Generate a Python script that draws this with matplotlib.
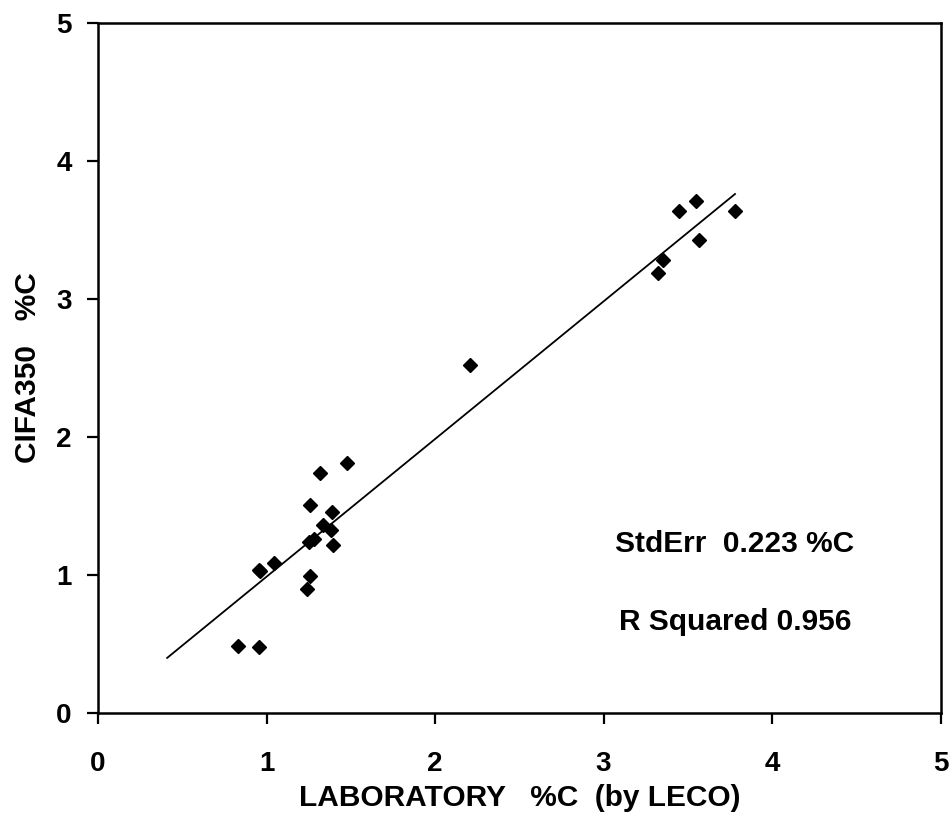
import matplotlib
matplotlib.use("Agg")
import matplotlib.pyplot as plt

plt.rcParams["font.family"] = ["Liberation Sans", "DejaVu Sans"]

# laboratory %C (LECO) vs CIFA350 %C
lab_c = [0.83, 0.955, 0.953, 0.96, 1.044, 1.24, 1.26, 1.253, 1.28, 1.26,
         1.32, 1.475, 1.39, 1.336, 1.385, 1.394, 2.21,
         3.325, 3.353, 3.45, 3.55, 3.567, 3.78]
cifa_c = [0.485, 0.476, 1.04, 1.03, 1.09, 0.896, 0.995, 1.24, 1.26, 1.51,
          1.74, 1.81, 1.46, 1.36, 1.33, 1.22, 2.52,
          3.19, 3.28, 3.635, 3.71, 3.43, 3.635]

# regression line end points
fit_x = [0.41, 3.78]
fit_y = [0.40, 3.76]

std_err = 0.223
r_squared = 0.956

fig = plt.figure(figsize=(9.52, 8.15), dpi=100)
ax = fig.add_axes([0.103, 0.125, 0.885, 0.847])

ax.plot(fit_x, fit_y, color="black", linewidth=1.3)
ax.plot(lab_c, cifa_c, linestyle="none", marker="D", markersize=7,
        color="black")

ax.set_xlim(0, 5)
ax.set_ylim(0, 5)
ax.set_xticks(range(6))
ax.set_yticks(range(6))

for side in ["left", "bottom", "top", "right"]:
    ax.spines[side].set_linewidth(1.8)
ax.tick_params(axis="x", direction="out", length=8, width=1.6,
               labelsize=20, pad=19)
ax.tick_params(axis="y", direction="out", length=8, width=1.6,
               labelsize=20, pad=11)
for lbl in ax.get_xticklabels() + ax.get_yticklabels():
    lbl.set_fontweight("bold")

ax.set_xlabel("LABORATORY   %C  (by LECO)", fontsize=21.5, fontweight="bold",
              labelpad=5)
ax.set_ylabel("CIFA350   %C", fontsize=21.5, fontweight="bold", labelpad=10)

ax.text(3.78, 1.167, f"StdErr  {std_err:.3f} %C", ha="center",
        va="baseline", fontsize=21.5, fontweight="bold")
ax.text(3.78, 0.605, f"R Squared {r_squared:.3f}", ha="center",
        va="baseline", fontsize=21.5, fontweight="bold")

fig.savefig("out.png", dpi=100)
